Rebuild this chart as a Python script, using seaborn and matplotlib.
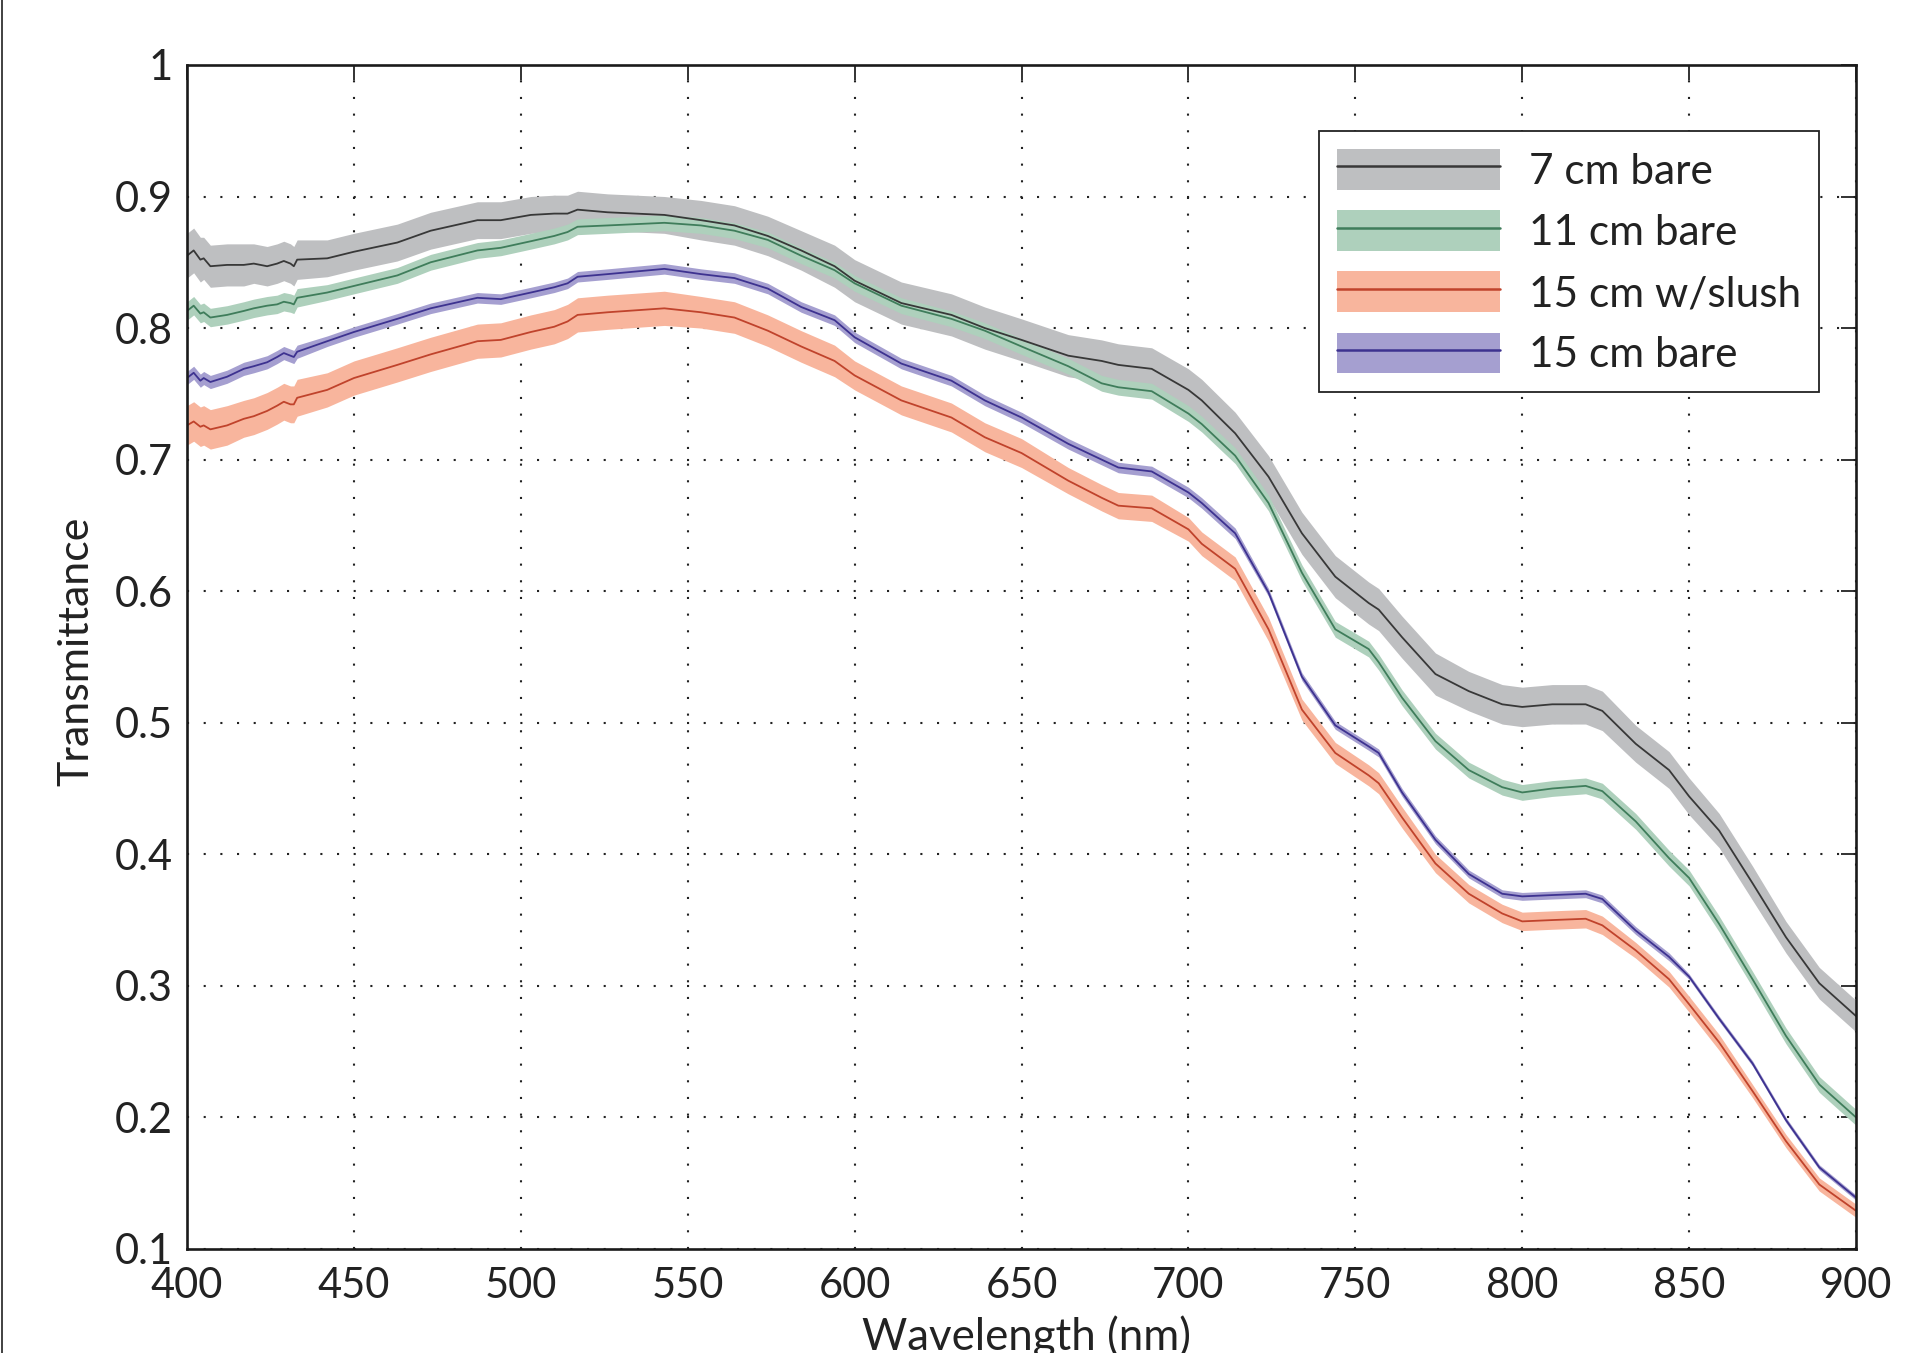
import numpy as np
import pandas as pd
import matplotlib
matplotlib.use("Agg")
import matplotlib.pyplot as plt
from matplotlib.patches import Patch
from matplotlib.lines import Line2D
from matplotlib.legend_handler import HandlerTuple
import seaborn as sns

# ---------------- data ----------------
wavelength = [400, 402, 404, 405, 407, 412, 417, 420, 424, 427, 429, 431, 432, 433, 442, 450,
              463, 473, 487, 494, 503, 510, 514, 517, 526, 543, 554, 564, 574, 584, 594, 600,
              614, 629, 639, 650, 664, 674, 679, 689, 700, 704, 714, 724, 734, 744, 754, 757,
              764, 774, 784, 794, 800, 809, 819, 824, 834, 844, 850, 859, 869, 879, 889, 900]

t_7cm_bare = [0.855, 0.859, 0.852, 0.853, 0.847, 0.848, 0.848, 0.849, 0.847, 0.849, 0.851, 0.849, 0.847, 0.852, 0.853, 0.858,
              0.865, 0.874, 0.882, 0.882, 0.886, 0.887, 0.887, 0.890, 0.888, 0.886, 0.882, 0.878, 0.870, 0.859, 0.847, 0.836,
              0.819, 0.810, 0.800, 0.791, 0.779, 0.775, 0.772, 0.769, 0.753, 0.745, 0.720, 0.687, 0.644, 0.611, 0.591, 0.586,
              0.565, 0.537, 0.524, 0.514, 0.512, 0.514, 0.514, 0.509, 0.484, 0.464, 0.444, 0.418, 0.378, 0.337, 0.302, 0.277]

t_11cm_bare = [0.813, 0.817, 0.811, 0.812, 0.808, 0.810, 0.813, 0.815, 0.817, 0.818, 0.820, 0.819, 0.818, 0.823, 0.827, 0.832,
               0.840, 0.850, 0.859, 0.861, 0.866, 0.870, 0.873, 0.877, 0.878, 0.880, 0.878, 0.874, 0.867, 0.855, 0.844, 0.834,
               0.817, 0.807, 0.798, 0.786, 0.771, 0.758, 0.755, 0.752, 0.735, 0.727, 0.703, 0.667, 0.614, 0.571, 0.556, 0.546,
               0.519, 0.486, 0.464, 0.451, 0.447, 0.450, 0.452, 0.448, 0.425, 0.397, 0.382, 0.347, 0.305, 0.262, 0.225, 0.200]

t_15cm_slush = [0.726, 0.729, 0.725, 0.726, 0.723, 0.726, 0.731, 0.733, 0.737, 0.741, 0.744, 0.742, 0.742, 0.747, 0.753, 0.762,
                0.772, 0.780, 0.790, 0.791, 0.797, 0.801, 0.805, 0.810, 0.812, 0.815, 0.812, 0.808, 0.798, 0.786, 0.775, 0.764,
                0.745, 0.732, 0.717, 0.705, 0.684, 0.671, 0.665, 0.663, 0.647, 0.636, 0.617, 0.571, 0.510, 0.477, 0.460, 0.454,
                0.428, 0.393, 0.370, 0.355, 0.349, 0.350, 0.351, 0.346, 0.327, 0.305, 0.286, 0.257, 0.220, 0.182, 0.149, 0.129]

t_15cm_bare = [0.762, 0.766, 0.760, 0.762, 0.759, 0.763, 0.769, 0.771, 0.774, 0.778, 0.781, 0.779, 0.778, 0.782, 0.790, 0.797,
               0.807, 0.815, 0.823, 0.822, 0.827, 0.831, 0.834, 0.839, 0.841, 0.845, 0.841, 0.838, 0.830, 0.816, 0.806, 0.793,
               0.773, 0.760, 0.745, 0.732, 0.712, 0.700, 0.694, 0.691, 0.675, 0.667, 0.644, 0.599, 0.535, 0.498, 0.482, 0.477,
               0.447, 0.411, 0.385, 0.370, 0.368, 0.369, 0.370, 0.366, 0.342, 0.322, 0.307, 0.275, 0.241, 0.198, 0.162, 0.139]

# half-width of the shaded band around each mean
hw_7cm_bare = [0.017, 0.017, 0.017, 0.016, 0.016, 0.016, 0.016, 0.015, 0.015, 0.015, 0.015, 0.015, 0.015, 0.015, 0.014, 0.014,
               0.014, 0.014, 0.014, 0.014, 0.014, 0.014, 0.014, 0.014, 0.014, 0.014, 0.015, 0.015, 0.015, 0.015, 0.016, 0.016,
               0.016, 0.016, 0.016, 0.016, 0.016, 0.016, 0.016, 0.016, 0.016, 0.016, 0.016, 0.016, 0.016, 0.016, 0.016, 0.016,
               0.016, 0.016, 0.015, 0.015, 0.015, 0.015, 0.015, 0.015, 0.014, 0.014, 0.014, 0.013, 0.013, 0.012, 0.012, 0.012]

hw_11cm_bare = [0.007, 0.007, 0.007, 0.007, 0.007, 0.007, 0.007, 0.007, 0.007, 0.007, 0.007, 0.007, 0.007, 0.007, 0.006, 0.006,
                0.006, 0.006, 0.006, 0.006, 0.006, 0.006, 0.006, 0.006, 0.006, 0.006, 0.006, 0.006, 0.006, 0.006, 0.006, 0.006,
                0.006, 0.006, 0.006, 0.006, 0.006, 0.006, 0.006, 0.006, 0.006, 0.006, 0.006, 0.006, 0.006, 0.006, 0.006, 0.006,
                0.006, 0.006, 0.006, 0.006, 0.006, 0.006, 0.006, 0.006, 0.006, 0.006, 0.006, 0.006, 0.006, 0.006, 0.006, 0.006]

hw_15cm_slush = [0.015, 0.015, 0.015, 0.015, 0.015, 0.015, 0.014, 0.014, 0.014, 0.014, 0.014, 0.014, 0.014, 0.014, 0.013, 0.013,
                 0.013, 0.013, 0.013, 0.013, 0.013, 0.013, 0.013, 0.013, 0.013, 0.013, 0.012, 0.012, 0.012, 0.012, 0.012, 0.011,
                 0.011, 0.011, 0.011, 0.011, 0.010, 0.010, 0.010, 0.010, 0.009, 0.009, 0.009, 0.009, 0.008, 0.008, 0.008, 0.008,
                 0.008, 0.007, 0.007, 0.007, 0.007, 0.007, 0.007, 0.007, 0.006, 0.006, 0.006, 0.006, 0.005, 0.005, 0.005, 0.005]

hw_15cm_bare = [0.005, 0.005, 0.005, 0.005, 0.005, 0.005, 0.005, 0.005, 0.005, 0.005, 0.005, 0.005, 0.005, 0.005, 0.004, 0.004,
                0.004, 0.004, 0.004, 0.004, 0.004, 0.004, 0.004, 0.004, 0.004, 0.004, 0.004, 0.004, 0.004, 0.004, 0.004, 0.004,
                0.004, 0.004, 0.004, 0.004, 0.004, 0.004, 0.004, 0.004, 0.004, 0.004, 0.004, 0.003, 0.003, 0.003, 0.003, 0.003,
                0.003, 0.003, 0.003, 0.003, 0.003, 0.003, 0.003, 0.003, 0.003, 0.003, 0.002, 0.002, 0.002, 0.002, 0.002, 0.002]

series_names = ["7 cm bare", "11 cm bare", "15 cm w/slush", "15 cm bare"]
series_vals = [t_7cm_bare, t_11cm_bare, t_15cm_slush, t_15cm_bare]
series_hw = [hw_7cm_bare, hw_11cm_bare, hw_15cm_slush, hw_15cm_bare]

line_colors = ["#383838", "#3f7d5b", "#c0432c", "#3d3290"]
band_colors = ["#bebfc1", "#aed0bc", "#f8b59d", "#a59fd0"]

x_ticks = [400, 450, 500, 550, 600, 650, 700, 750, 800, 850, 900]
y_ticks = [0.1, 0.2, 0.3, 0.4, 0.5, 0.6, 0.7, 0.8, 0.9, 1.0]
y_tick_labels = ["0.1", "0.2", "0.3", "0.4", "0.5", "0.6", "0.7", "0.8", "0.9", "1"]

# ---------------- plot ----------------
sns.set_style("white")
plt.rcParams["font.family"] = ["Lato", "DejaVu Sans"]

df = pd.DataFrame({
    "Wavelength": np.tile(wavelength, len(series_names)),
    "Transmittance": np.concatenate(series_vals),
    "Series": np.repeat(series_names, len(wavelength)),
})

fig = plt.figure(figsize=(19.16, 13.53), dpi=100)
ax = fig.add_axes([0.0976, 0.0769, 0.8711, 0.8751])

# shaded bands
wl = np.array(wavelength)
for vals, hw, bc in zip(series_vals, series_hw, band_colors):
    v = np.array(vals); h = np.array(hw)
    ax.fill_between(wl, v - h, v + h, color=bc, lw=0, zorder=2)

sns.lineplot(data=df, x="Wavelength", y="Transmittance", hue="Series",
             hue_order=series_names, palette=dict(zip(series_names, line_colors)),
             linewidth=1.3, ax=ax, legend=False, zorder=3)

ax.set_xlim(400, 900)
ax.set_ylim(0.1, 1.0)
ax.set_xticks(x_ticks)
ax.set_xticklabels([str(t) for t in x_ticks])
ax.set_yticks(y_ticks)
ax.set_yticklabels(y_tick_labels)

ax.grid(True, color="#222222", linestyle=(0, (1, 7)), linewidth=1.5, zorder=1)
ax.set_axisbelow(True)

ax.tick_params(axis="both", which="major", direction="in", length=11, width=1.3,
               top=True, right=True, labelsize=30, colors="#222222")
ax.tick_params(axis="y", pad=10)
ax.tick_params(axis="x", pad=13)
for s in ax.spines.values():
    s.set_linewidth(1.9)
    s.set_color("#1a1a1a")
    s.set_zorder(5)

ax.set_xlabel("Wavelength (nm)", fontsize=31.5, color="#222222")
ax.set_ylabel("Transmittance", fontsize=31, color="#222222")
ax.xaxis.set_label_coords(0.503, -0.056)
ax.yaxis.set_label_coords(-0.055, 0.505)

handles = [(Patch(facecolor=bc, edgecolor="none"), Line2D([], [], color=lc, lw=1.8))
           for bc, lc in zip(band_colors, line_colors)]
leg = ax.legend(handles, series_names, handler_map={tuple: HandlerTuple(ndivide=1, pad=0)},
                loc="upper right", bbox_to_anchor=(0.978, 0.944), borderaxespad=0,
                fontsize=30.5, handlelength=3.85, handleheight=1.1, labelspacing=0.46,
                handletextpad=0.7, borderpad=0.42, frameon=True, fancybox=False,
                framealpha=1, edgecolor="#222222")
leg.get_frame().set_linewidth(1.3)
for t in leg.get_texts():
    t.set_color("#222222")

fig.add_artist(Line2D([0.0012, 0.0012], [0, 1], transform=fig.transFigure,
                      color="#333333", lw=1.3))

fig.savefig("out.png", dpi=100)
